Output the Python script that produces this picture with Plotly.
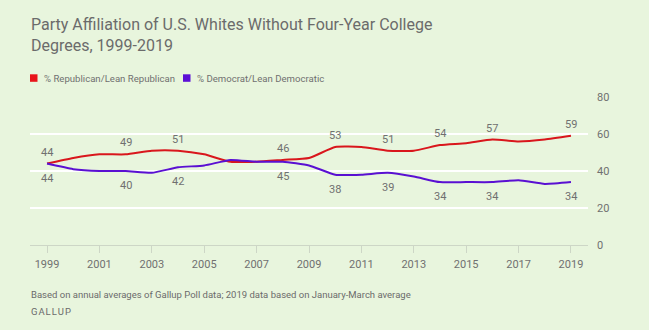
import plotly.graph_objects as go

years = list(range(1999, 2020))
republican = [44, 47, 49, 49, 51, 51, 49, 45, 45, 46, 47, 53, 53, 51, 51, 54, 55, 57, 56, 57, 59]
democrat = [44, 41, 40, 40, 39, 42, 43, 46, 45, 45, 43, 38, 38, 39, 37, 34, 34, 34, 35, 33, 34]
label_years = [1999, 2002, 2004, 2008, 2010, 2012, 2014, 2016, 2019]
y_ticks = [0, 20, 40, 60, 80]
x_ticks = list(range(1999, 2020, 2))
series_names = ["% Republican/Lean Republican", "% Democrat/Lean Democratic"]

title = "Party Affiliation of U.S. Whites Without Four-Year College<br>Degrees, 1999-2019"
footnote = "Based on annual averages of Gallup Poll data; 2019 data based on January-March average"
source = "G\u200aA\u200aL\u200aL\u200aU\u200aP"

RED = "#D9161C"
PURPLE = "#5A10D2"
RED_KEY = "#E8141A"
PURPLE_KEY = "#5C0FD6"
BG = "#E8F5DD"
GRAY = "#707070"
FONT = "Roboto"

# plot area in pixels (for paper-coordinate placement of titles / key)
PL, PR, PT, PB = 30, 588, 97, 245
def px(x):
    return (x - PL) / (PR - PL)
def py(y):
    return (PB - y) / (PB - PT)

fig = go.Figure()
fig.add_trace(go.Scatter(
    x=years, y=republican, mode="lines", name=series_names[0],
    line=dict(color=RED, width=2, shape="spline", smoothing=0.5),
    showlegend=False, hoverinfo="x+y"))
fig.add_trace(go.Scatter(
    x=years, y=democrat, mode="lines", name=series_names[1],
    line=dict(color=PURPLE, width=2, shape="spline", smoothing=0.5),
    showlegend=False, hoverinfo="x+y"))

annotations = []
for yr, r, d in zip(years, republican, democrat):
    if yr in label_years:
        annotations.append(dict(x=yr, y=r, text=str(r), showarrow=False, yshift=11.5,
                                xanchor="center", yanchor="middle",
                                font=dict(size=11, color=GRAY, family=FONT)))
        annotations.append(dict(x=yr, y=d, text=str(d), showarrow=False, yshift=-14.5,
                                xanchor="center", yanchor="middle",
                                font=dict(size=11, color=GRAY, family=FONT)))

# title
annotations.append(dict(text=title, xref="paper", yref="paper", x=px(29), y=py(13),
                        xanchor="left", yanchor="top", align="left", showarrow=False,
                        font=dict(size=16, color="#6B6B6B", family=FONT)))
# key (legend)
key_text_x = [42, 195]
key_sq_x = [30, 183]
key_cols = [RED_KEY, PURPLE_KEY]
shapes = []
for name, tx, sx, c in zip(series_names, key_text_x, key_sq_x, key_cols):
    annotations.append(dict(text=name, xref="paper", yref="paper", x=px(tx), y=py(78),
                            xanchor="left", yanchor="middle", showarrow=False,
                            font=dict(size=9.6, color=GRAY, family=FONT)))
    shapes.append(dict(type="rect", xref="paper", yref="paper", x0=px(sx), x1=px(sx + 7.5),
                       y0=py(81.8), y1=py(74.3), fillcolor=c, line=dict(width=0)))
# footnote + source
annotations.append(dict(text=footnote, xref="paper", yref="paper", x=px(29), y=py(294),
                        xanchor="left", yanchor="middle", showarrow=False,
                        font=dict(size=9.5, color="#6B6B6B", family=FONT)))
annotations.append(dict(text=source, xref="paper", yref="paper", x=px(29), y=py(311),
                        xanchor="left", yanchor="middle", showarrow=False,
                        font=dict(size=9.5, color="#6B6B6B", family=FONT)))

fig.update_layout(
    width=649, height=330,
    margin=dict(l=PL, r=649 - PR, t=PT, b=330 - PB),
    paper_bgcolor=BG, plot_bgcolor=BG,
    font=dict(family=FONT, color=GRAY),
    showlegend=False,
    xaxis=dict(range=[1998.35, 2019.65], tickvals=x_ticks, ticktext=[str(t) for t in x_ticks],
               showgrid=False, zeroline=False, showline=True, linecolor="#CDD6C6", linewidth=1,
               ticks="outside", ticklen=7, tickcolor="#CDD6C6", tickfont=dict(size=11, color=GRAY),
               ticklabelstandoff=2, fixedrange=True),
    yaxis=dict(range=[0, 80], tickvals=y_ticks, side="right", showgrid=True, gridcolor="#FFFFFF",
               gridwidth=2, zeroline=False, showline=False, ticks="", ticklabelstandoff=8,
               tickfont=dict(size=11, color=GRAY), fixedrange=True),
    annotations=annotations,
    shapes=shapes,
)

fig.write_html("out.html")
